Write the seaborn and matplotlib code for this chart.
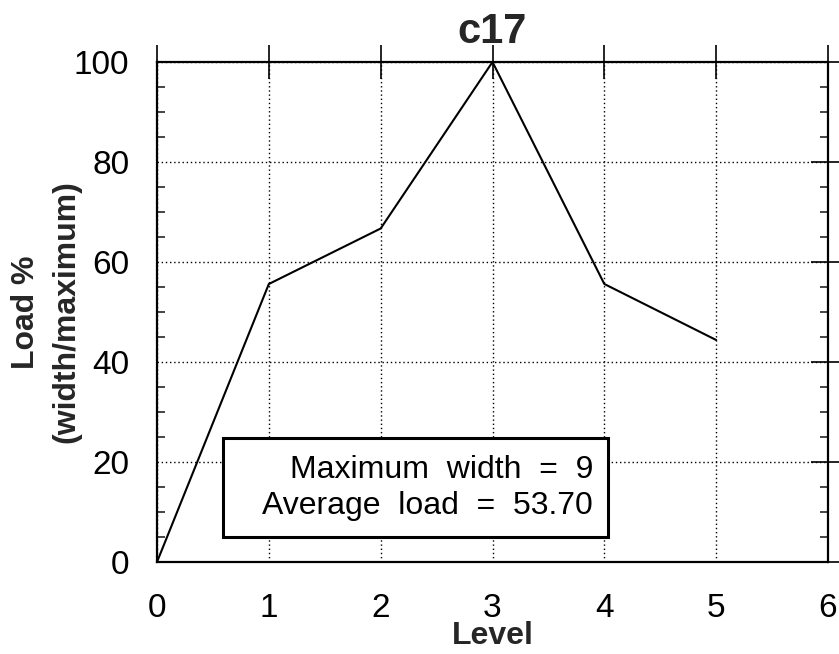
import matplotlib
matplotlib.use("Agg")
import matplotlib.pyplot as plt
import seaborn as sns
import pandas as pd
from matplotlib.patches import Rectangle
from matplotlib.ticker import MultipleLocator

levels = [0, 1, 2, 3, 4, 5]
load = [0.0, 55.6, 66.7, 100.0, 55.6, 44.4]
x_ticks = [0, 1, 2, 3, 4, 5, 6]
y_ticks = [0, 20, 40, 60, 80, 100]
title = "c17"
info_lines = ["Maximum  width  =  9", "Average  load  =  53.70"]

sns.set_theme(style="white")
plt.rcParams["font.family"] = ["Liberation Sans", "DejaVu Sans"]

fig = plt.figure(figsize=(8.39, 6.54), dpi=100)
ax = fig.add_axes([157 / 839, 1 - 562 / 654, (828 - 157) / 839, (562 - 62) / 654])

df = pd.DataFrame({"Level": levels, "Load": load})
sns.lineplot(data=df, x="Level", y="Load", ax=ax, color="black", linewidth=1.5, zorder=3)

ax.set_xlim(0, 6)
ax.set_ylim(0, 100)
ax.set_xticks(x_ticks)
ax.set_yticks(y_ticks)
ax.yaxis.set_minor_locator(MultipleLocator(5))
ax.tick_params(axis="both", which="major", direction="inout", length=24, width=1.2,
               colors="black", labelsize=24, top=True, right=True)
ax.tick_params(axis="x", which="major", pad=10)
ax.tick_params(axis="y", which="major", pad=8)
ax.tick_params(axis="y", which="minor", direction="in", length=6, width=1.2,
               left=True, right=True)
ax.grid(True, which="major", color="black", linestyle=(0, (1, 2)), linewidth=1.0)
for s in ax.spines.values():
    s.set_color("black")
    s.set_linewidth(1.6)

ax.set_title(title, fontsize=30, fontweight="bold", pad=14)
ax.set_xlabel("Level", fontsize=23, fontweight="bold", labelpad=-2)
ax.set_ylabel("Load %\n(width/maximum)", fontsize=23, fontweight="bold",
              linespacing=1.45)
ax.yaxis.set_label_coords(-0.112, 0.5)

rect = Rectangle((0.59, 5.0), 3.44, 19.8, facecolor="white", edgecolor="black",
                 linewidth=2.2, zorder=4)
ax.add_patch(rect)
ax.text(3.90, 14.8, "\n".join(info_lines), ha="right", va="center", multialignment="right",
        fontsize=23, linespacing=1.25, zorder=5, color="black")

fig.savefig("out.png", dpi=100)
